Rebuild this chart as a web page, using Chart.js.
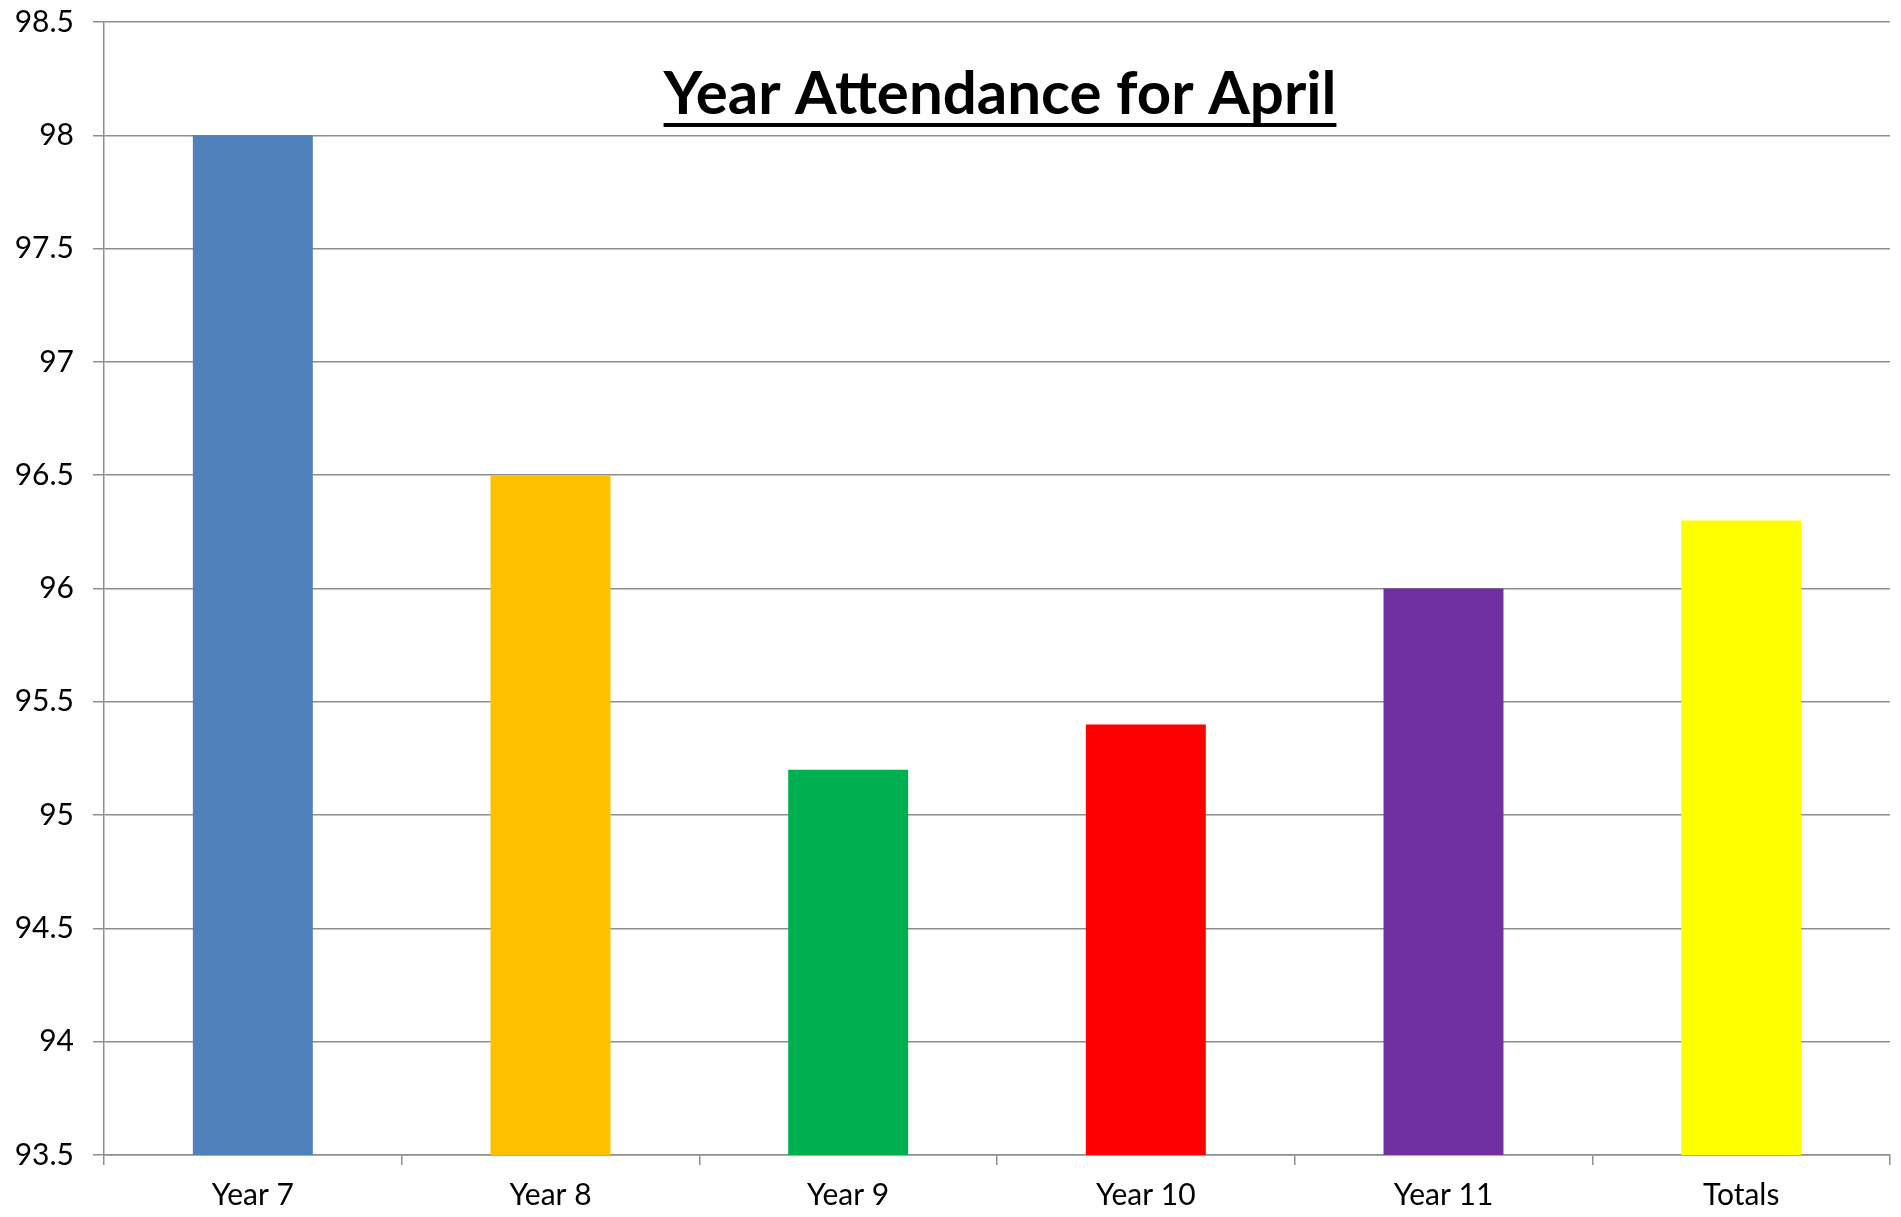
<!DOCTYPE html>
<html>
<head>
<meta charset="utf-8">
<script src="https://cdn.jsdelivr.net/npm/chart.js@4/dist/chart.umd.min.js"></script>
<style>
    html, body { margin: 0; padding: 0; background: #fff; }
    #wrap { width: 1901px; height: 1217px; }
</style>
</head>
<body>
<div id="wrap"><canvas id="chart" width="1901" height="1217"></canvas></div>
<script>
// 数据
const categories = ['Year 7', 'Year 8', 'Year 9', 'Year 10', 'Year 11', 'Totals'];
const attendance = [98.0, 96.5, 95.2, 95.4, 96.0, 96.3];
const barColors = ['#4F81BD', '#FFC000', '#00B050', '#FF0000', '#7030A0', '#FFFF00'];
const yMin = 93.5;
const yMax = 98.5;
const yStep = 0.5;
const titleText = 'Year Attendance for April';

const gridColor = '#8e8e8e';
const fontFamily = 'Lato, "Open Sans", sans-serif';

// 图表内的标题（带下划线）
const titlePlugin = {
    id: 'innerTitle',
    afterDatasetsDraw(chart) {
        const { ctx, chartArea } = chart;
        const cx = (chartArea.left + chartArea.right) / 2 + 3;
        const baseline = 114;
        ctx.save();
        ctx.font = 'bold 60px ' + fontFamily;
        ctx.fillStyle = '#000';
        ctx.textAlign = 'center';
        ctx.textBaseline = 'alphabetic';
        ctx.fillText(titleText, cx, baseline);
        const w = ctx.measureText(titleText).width;
        ctx.fillRect(cx - w / 2, baseline + 9, w, 4);
        ctx.restore();
    }
};

const ctx = document.getElementById('chart').getContext('2d');
const chart = new Chart(ctx, {
    type: 'bar',
    data: {
        labels: categories,
        datasets: [{
            data: attendance,
            backgroundColor: barColors,
            borderWidth: 0,
            categoryPercentage: 1,
            barPercentage: 0.403
        }]
    },
    options: {
        responsive: false,
        animation: false,
        layout: {
            padding: { left: 0, top: 22, right: 11, bottom: 0 }
        },
        plugins: {
            legend: { display: false },
            title: { display: false },
            tooltip: { enabled: false }
        },
        scales: {
            x: {
                offset: true,
                grid: {
                    offset: true,
                    drawOnChartArea: false,
                    drawTicks: true,
                    tickLength: 10,
                    color: gridColor,
                    lineWidth: 1.5
                },
                border: { color: gridColor, width: 1.5 },
                ticks: {
                    color: '#000',
                    font: { family: fontFamily, size: 30 },
                    padding: 12,
                    maxRotation: 0
                },
                afterFit(scale) {
                    scale.height = 62;
                    scale.paddingLeft = 0;
                    scale.paddingRight = 0;
                }
            },
            y: {
                min: yMin,
                max: yMax,
                grid: {
                    color: gridColor,
                    lineWidth: 1.5,
                    tickLength: 11
                },
                border: { color: gridColor, width: 1.5 },
                ticks: {
                    stepSize: yStep,
                    color: '#000',
                    font: { family: fontFamily, size: 30 },
                    padding: 19,
                    callback: (v) => String(v)
                },
                afterFit(scale) {
                    scale.width = 104;
                    scale.paddingTop = 0;
                    scale.paddingBottom = 0;
                }
            }
        }
    },
    plugins: [titlePlugin]
});
</script>
</body>
</html>
